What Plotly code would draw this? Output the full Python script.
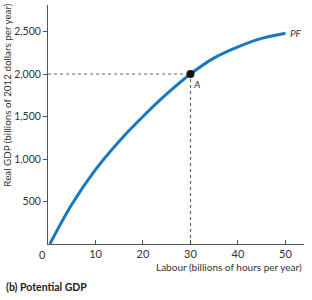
import plotly.graph_objects as go

labour = [0.4, 5, 10, 15, 20, 25, 30, 35, 40, 45, 50]
real_gdp = [0, 465, 875, 1210, 1500, 1765, 2000, 2190, 2320, 2420, 2480]
point_a = (30, 2000)
x_ticks = [10, 20, 30, 40, 50]
y_ticks = [500, 1000, 1500, 2000, 2500]

FONT = "Lato, Open Sans, sans-serif"
GREY = "#555555"
TXT = "#333333"

fig = go.Figure()
# dotted guide lines
fig.add_trace(go.Scatter(x=[0, point_a[0]], y=[point_a[1], point_a[1]], mode="lines",
                         line=dict(color="#666666", width=1.2, dash="dot"), hoverinfo="skip"))
fig.add_trace(go.Scatter(x=[point_a[0], point_a[0]], y=[0, point_a[1]], mode="lines",
                         line=dict(color="#666666", width=1.2, dash="dot"), hoverinfo="skip"))
fig.add_trace(go.Scatter(x=labour, y=real_gdp, mode="lines",
                         line=dict(color="#1a78be", width=3, shape="spline", smoothing=1.0)))
fig.add_trace(go.Scatter(x=[point_a[0]], y=[point_a[1]], mode="markers",
                         marker=dict(color="#111111", size=8)))

fig.update_layout(
    width=312, height=300, showlegend=False,
    margin=dict(l=48, r=8, t=5, b=56),
    plot_bgcolor="white", paper_bgcolor="white",
    font=dict(family=FONT, color=TXT, size=11),
)
fig.update_xaxes(range=[0, 53.9], tickvals=x_ticks, ticks="inside", ticklen=4,
                 tickcolor=GREY, showline=True, linecolor=GREY, linewidth=1,
                 showgrid=False, zeroline=False, tickfont=dict(size=11, color=TXT))
fig.update_yaxes(range=[0, 2812], tickvals=y_ticks, tickformat=",", ticks="outside",
                 ticklen=4, tickcolor=GREY, showline=True, linecolor=GREY, linewidth=1,
                 showgrid=False, zeroline=False, tickfont=dict(size=10.5, color=TXT))

ann = [
    dict(text="0", x=-0.023, y=-0.042, xref="paper", yref="paper", xanchor="center",
         yanchor="middle", showarrow=False, font=dict(size=11)),
    dict(text="Labour (billions of hours per year)", x=1.0, y=-0.096, xref="paper",
         yref="paper", xanchor="right", yanchor="middle", showarrow=False,
         font=dict(size=10)),
    dict(text="<b>(b) Potential GDP</b>", x=-0.172, y=-0.18, xref="paper", yref="paper",
         xanchor="left", yanchor="middle", showarrow=False, font=dict(size=10.5, color="#222")),
    dict(text="Real GDP (billions of 2012 dollars per year)", x=-0.158, y=0.623,
         xref="paper", yref="paper", xanchor="center", yanchor="middle", textangle=-90,
         showarrow=False, font=dict(size=9.8)),
    dict(text="<i>PF</i>", x=labour[-1], y=real_gdp[-1], xanchor="left", yanchor="middle",
         xshift=3, showarrow=False, font=dict(size=10)),
    dict(text="<i>A</i>", x=point_a[0], y=point_a[1], xanchor="left", yanchor="top",
         xshift=1, yshift=-2, showarrow=False, font=dict(size=10)),
]
fig.update_layout(annotations=ann)
fig.write_html("out.html")
